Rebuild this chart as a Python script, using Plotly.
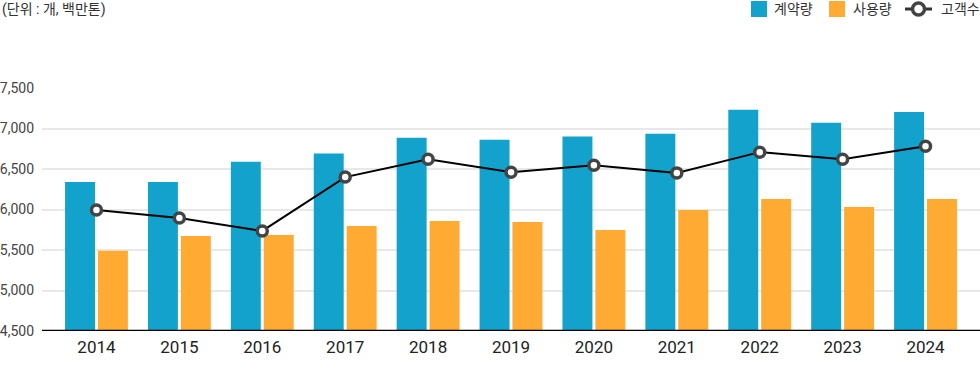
import plotly.graph_objects as go

years = ["2014", "2015", "2016", "2017", "2018", "2019", "2020", "2021", "2022", "2023", "2024"]
contract = [6340, 6340, 6590, 6690, 6885, 6860, 6900, 6935, 7230, 7070, 7205]
usage = [5490, 5672, 5684, 5796, 5858, 5845, 5746, 5994, 6130, 6031, 6130]
customers = [5995, 5895, 5735, 6400, 6620, 6460, 6547, 6452, 6708, 6621, 6782]
yticks = [4500, 5000, 5500, 6000, 6500, 7000, 7500]
legend_names = ["계약량", "사용량", "고객수"]

BLUE, ORANGE = "#13A2CB", "#FEAA33"
FONT = "Roboto, 'Noto Sans CJK KR', sans-serif"
L, T, B = 42, 88, 37
PLOT_H = 368 - T - B
PLOT_W = 980 - L


def px(x):
    return (x - L) / PLOT_W


def py(y):
    return (368 - B - y) / PLOT_H


fig = go.Figure()
fig.add_trace(go.Bar(name=legend_names[0], x=years, y=[v - 4500 for v in contract], base=4500,
                     marker=dict(color=BLUE, line=dict(width=0))))
fig.add_trace(go.Bar(name=legend_names[1], x=years, y=[v - 4500 for v in usage], base=4500,
                     marker=dict(color=ORANGE, line=dict(width=0))))
fig.add_trace(go.Scatter(name=legend_names[2], x=years, y=customers, mode="lines+markers",
                         line=dict(color="#000000", width=2),
                         marker=dict(size=10, color="#FFFFFF", line=dict(color="#444444", width=3.5))))

# custom legend (top right)
ly = 9
shapes = [
    dict(type="rect", xref="paper", yref="paper", x0=px(751), x1=px(767), y0=py(ly + 8), y1=py(ly - 8),
         fillcolor=BLUE, line=dict(width=0)),
    dict(type="rect", xref="paper", yref="paper", x0=px(829), x1=px(845), y0=py(ly + 8), y1=py(ly - 8),
         fillcolor=ORANGE, line=dict(width=0)),
    dict(type="line", xref="paper", yref="paper", x0=px(905), x1=px(932), y0=py(ly), y1=py(ly),
         line=dict(color="#333333", width=3)),
    dict(type="circle", xref="paper", yref="paper", x0=px(912.5), x1=px(924.5), y0=py(ly + 6), y1=py(ly - 6),
         fillcolor="#FFFFFF", line=dict(color="#444444", width=3.5)),
    dict(type="line", xref="paper", yref="y", x0=0, x1=1, y0=4500, y1=4500,
         line=dict(color="#000000", width=2.5), layer="above"),
]
annotations = [
    dict(text="(단위 : 개, 백만톤)", xref="paper", yref="paper", x=px(0), y=py(ly),
         xanchor="left", yanchor="middle", showarrow=False, font=dict(size=14, color="#333333")),
]
for name, x0 in zip(legend_names, [772, 851, 939]):
    annotations.append(dict(text=name, xref="paper", yref="paper", x=px(x0), y=py(ly),
                            xanchor="left", yanchor="middle", showarrow=False,
                            font=dict(size=14, color="#333333")))

fig.update_layout(
    width=980, height=368,
    margin=dict(l=L, r=0, t=T, b=B),
    paper_bgcolor="#FFFFFF", plot_bgcolor="#FFFFFF",
    barmode="group", bargap=0.206, bargroupgap=0.09,
    font=dict(family=FONT, color="#333333", size=13),
    showlegend=False,
    xaxis=dict(range=[-0.657, 10.657], showgrid=False, showline=False, zeroline=False,
               ticks="", ticklabelstandoff=4, tickfont=dict(size=17, color="#222222")),
    yaxis=dict(range=[4500, 7500], tickvals=yticks, tickformat=",d",
               showgrid=True, gridcolor="#E8E8E8", gridwidth=2, zeroline=False,
               showline=False, ticks="", ticklabelstandoff=7,
               tickfont=dict(size=14, color="#444444")),
    annotations=annotations,
    shapes=shapes,
)

fig.write_html("out.html", config={"displayModeBar": False},
               post_script="document.body.style.margin='0';")
